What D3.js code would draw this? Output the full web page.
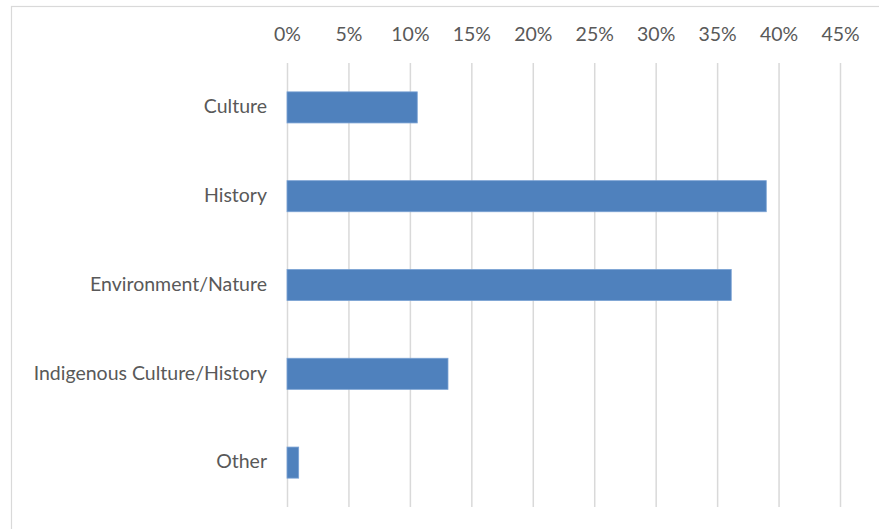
<!DOCTYPE html>
<html><head><meta charset="utf-8">
<script src="https://cdn.jsdelivr.net/npm/d3@7"></script>
<style>body{margin:0;background:#fff}svg{display:block}</style>
</head><body><svg id="c" width="879" height="529"></svg>
<script>
const categories = ["Culture","History","Environment/Nature","Indigenous Culture/History","Other"];
const values = [10.6, 39.0, 36.15, 13.1, 0.95];
const tickValues = [0,5,10,15,20,25,30,35,40,45];

const svg = d3.select("#c");
const font = "Lato, 'Open Sans', sans-serif";
// chart frame
svg.append("rect").attr("x",11.5).attr("y",6.5).attr("width",880).attr("height",540)
  .attr("fill","none").attr("stroke","#d9d9d9").attr("stroke-width",1.2);

const x = d3.scaleLinear().domain([0,45]).range([287,840]);
const y = d3.scaleBand().domain(categories).range([63,507]).paddingInner(0.65).paddingOuter(0.325);

const gx = svg.append("g").attr("transform","translate(0,63)")
  .call(d3.axisTop(x).tickValues(tickValues).tickFormat(d=>d+"%").tickSize(-444).tickPadding(22));
gx.select(".domain").remove();
gx.selectAll(".tick line").attr("stroke","#d9d9d9").attr("stroke-width",1.5);
gx.selectAll(".tick text").attr("fill","#595959").style("font-family",font).style("font-size","19.5px");

svg.append("g").selectAll("rect").data(values).join("rect")
  .attr("x",x(0)).attr("y",(d,i)=>y(categories[i]))
  .attr("width",d=>x(d)-x(0)).attr("height",y.bandwidth())
  .attr("fill","#4f81bd").attr("stroke","#7aa2d4").attr("stroke-width",0.8);

svg.append("g").selectAll("text").data(categories).join("text")
  .attr("x",267).attr("y",d=>y(d)+y.bandwidth()/2 - 1).attr("dy","0.35em")
  .attr("text-anchor","end").attr("fill","#595959")
  .style("font-family",font).style("font-size","19.5px").text(d=>d);
</script></body></html>
